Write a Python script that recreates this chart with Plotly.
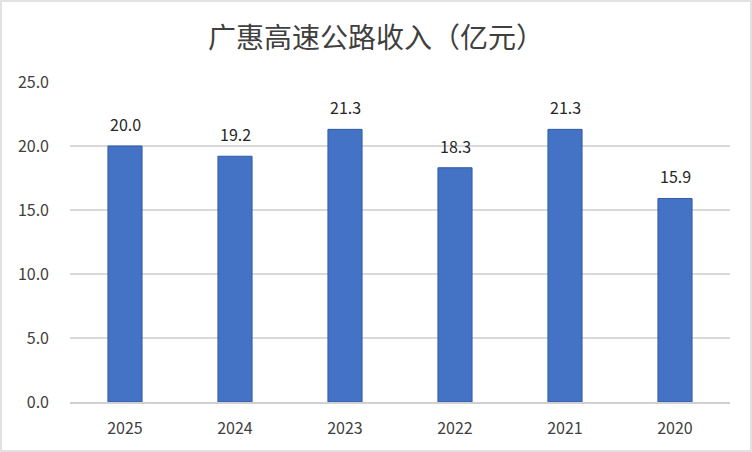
import plotly.graph_objects as go

years = ['2025', '2024', '2023', '2022', '2021', '2020']
revenue = [20.0, 19.2, 21.3, 18.3, 21.3, 15.9]
y_ticks = [0, 5, 10, 15, 20, 25]

W, H = 752, 452
ml, mr, mt, mb = 70, 22, 82, 50
pw, ph = W - ml - mr, H - mt - mb

fig = go.Figure()
fig.add_trace(go.Bar(
    x=years,
    y=revenue,
    width=0.31,
    marker=dict(color='#4472C4', line=dict(color='#2F5BA8', width=1)),
))

# value labels sit a bit above each bar, like the original
# (x given as category index: numeric-looking strings get read as indices)
for i, v in enumerate(revenue):
    fig.add_annotation(x=i, y=v, text=f'{v:.1f}', showarrow=False,
                       yanchor='bottom', yshift=8,
                       font=dict(size=16, color='#262626'))

fig.update_layout(
    width=W, height=H,
    margin=dict(l=ml, r=mr, t=mt, b=mb),
    paper_bgcolor='white',
    plot_bgcolor='white',
    showlegend=False,
    font=dict(family='Noto Sans CJK SC, Microsoft YaHei, sans-serif', color='#404040'),
    title=dict(text='广惠高速公路收入（亿元）', x=0.5, xanchor='center', y=1 - 38 / H, yanchor='middle',
               font=dict(size=28, color='#404040')),
    xaxis=dict(type='category', range=[-0.5, len(years) - 0.5], showline=True,
               linecolor='#D0D0D0', linewidth=1.5, ticks='',
               tickfont=dict(size=16, color='#404040'), ticklabelstandoff=11),
    yaxis=dict(range=[0, 25], tickvals=y_ticks, tickformat='.1f', showgrid=True,
               gridcolor='#D9D9D9', gridwidth=1.5, zeroline=False, ticks='',
               tickfont=dict(size=16, color='#404040'), ticklabelstandoff=20),
    shapes=[dict(type='rect', xref='paper', yref='paper',
                 x0=-(ml - 1) / pw, x1=1 + (mr - 1) / pw,
                 y0=-(mb - 1) / ph, y1=1 + (mt - 1) / ph,
                 line=dict(color='#D9D9D9', width=1.5))],
)

fig.write_html('out.html', config={'displayModeBar': False},
               post_script="document.body.style.margin='0';")
